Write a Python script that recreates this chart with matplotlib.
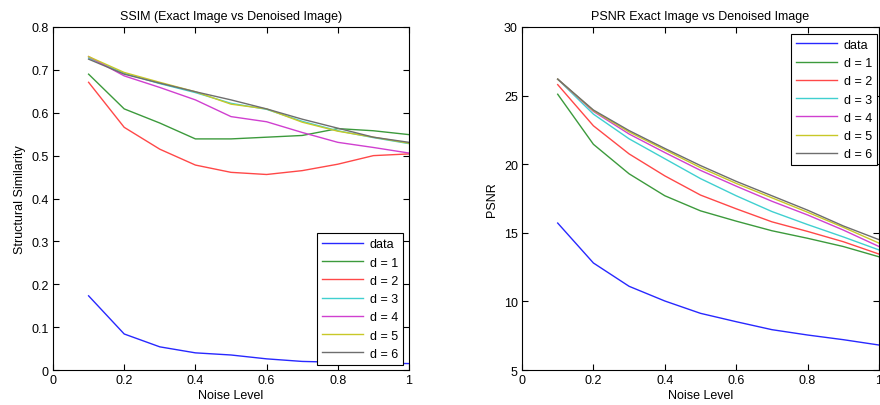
import numpy as np
import matplotlib
matplotlib.use("Agg")
import matplotlib.pyplot as plt
from matplotlib.ticker import FuncFormatter

plt.rcParams['font.family'] = ['Liberation Sans', 'DejaVu Sans']
plt.rcParams['font.size'] = 9

noise = [0.1, 0.2, 0.3, 0.4, 0.5, 0.6, 0.7, 0.8, 0.9, 1.0]
labels = ['data', 'd = 1', 'd = 2', 'd = 3', 'd = 4', 'd = 5', 'd = 6']
colors = ['#2828ff', '#3c9a3c', '#ff4848', '#40d0d0', '#d040d0', '#c8c828', '#6e6e6e']

# SSIM values
ssim_data = [0.173, 0.084, 0.054, 0.040, 0.035, 0.026, 0.020, 0.018, 0.016, 0.015]
ssim_d1 = [0.690, 0.609, 0.576, 0.539, 0.539, 0.543, 0.547, 0.563, 0.558, 0.549]
ssim_d2 = [0.671, 0.566, 0.515, 0.478, 0.461, 0.456, 0.465, 0.480, 0.500, 0.504]
ssim_d3 = [0.728, 0.692, 0.668, 0.647, 0.622, 0.608, 0.580, 0.558, 0.542, 0.528]
ssim_d4 = [0.731, 0.686, 0.659, 0.630, 0.591, 0.579, 0.554, 0.531, 0.519, 0.506]
ssim_d5 = [0.731, 0.694, 0.671, 0.649, 0.620, 0.609, 0.578, 0.557, 0.543, 0.529]
ssim_d6 = [0.725, 0.690, 0.669, 0.649, 0.630, 0.609, 0.585, 0.564, 0.543, 0.531]

# PSNR values
psnr_data = [15.71, 12.80, 11.10, 10.03, 9.13, 8.52, 7.94, 7.55, 7.21, 6.82]
psnr_d1 = [25.10, 21.45, 19.30, 17.70, 16.60, 15.85, 15.15, 14.60, 14.00, 13.25]
psnr_d2 = [25.80, 22.80, 20.75, 19.15, 17.75, 16.75, 15.80, 15.10, 14.35, 13.45]
psnr_d3 = [26.20, 23.65, 21.85, 20.40, 18.95, 17.70, 16.55, 15.60, 14.70, 13.75]
psnr_d4 = [26.20, 23.85, 22.20, 20.85, 19.55, 18.40, 17.30, 16.30, 15.20, 14.00]
psnr_d5 = [26.20, 23.90, 22.35, 21.05, 19.75, 18.60, 17.55, 16.50, 15.40, 14.25]
psnr_d6 = [26.20, 23.95, 22.45, 21.15, 19.90, 18.75, 17.70, 16.65, 15.50, 14.50]

ssim = [ssim_data, ssim_d1, ssim_d2, ssim_d3, ssim_d4, ssim_d5, ssim_d6]
psnr = [psnr_data, psnr_d1, psnr_d2, psnr_d3, psnr_d4, psnr_d5, psnr_d6]

fig = plt.figure(figsize=(8.8, 4.06), dpi=100)
ax1 = fig.add_axes([53/880, 1-371/406, 356/880, 343/406])
ax2 = fig.add_axes([522/880, 1-371/406, 357/880, 343/406])

gfmt = FuncFormatter(lambda v, p: '%g' % round(v, 2))

for ax in (ax1, ax2):
    ax.set_xlim(0, 1)
    ax.set_xticks([0, 0.2, 0.4, 0.6, 0.8, 1.0])
    ax.xaxis.set_major_formatter(gfmt)
    ax.tick_params(direction='in', top=True, right=True, length=4, width=0.8, pad=3)
    for s in ax.spines.values():
        s.set_linewidth(0.8)
    ax.set_xlabel('Noise Level', labelpad=2)

for vals, lab, c in zip(ssim, labels, colors):
    ax1.plot(noise, vals, color=c, lw=1.0, label=lab)
ax1.set_ylim(0, 0.8)
ax1.set_yticks(np.arange(0, 0.81, 0.1))
ax1.yaxis.set_major_formatter(gfmt)
ax1.set_ylabel('Structural Similarity', labelpad=4)
ax1.set_title('SSIM (Exact Image vs Denoised Image)', fontsize=9, pad=6)
leg1 = ax1.legend(loc='lower right', bbox_to_anchor=(0.983, 0.015), borderaxespad=0,
                  fancybox=False, edgecolor='black', framealpha=1,
                  handlelength=3.3, handletextpad=0.5, labelspacing=0.5, borderpad=0.4)
leg1.get_frame().set_linewidth(0.8)

for vals, lab, c in zip(psnr, labels, colors):
    ax2.plot(noise, vals, color=c, lw=1.0, label=lab)
ax2.set_ylim(5, 30)
ax2.set_yticks([5, 10, 15, 20, 25, 30])
ax2.set_ylabel('PSNR', labelpad=4)
ax2.set_title('PSNR Exact Image vs Denoised Image', fontsize=9, pad=6)
leg2 = ax2.legend(loc='upper right', bbox_to_anchor=(0.994, 0.98), borderaxespad=0,
                  fancybox=False, edgecolor='black', framealpha=1,
                  handlelength=3.3, handletextpad=0.5, labelspacing=0.5, borderpad=0.4)
leg2.get_frame().set_linewidth(0.8)

fig.savefig('out.png', dpi=100)
